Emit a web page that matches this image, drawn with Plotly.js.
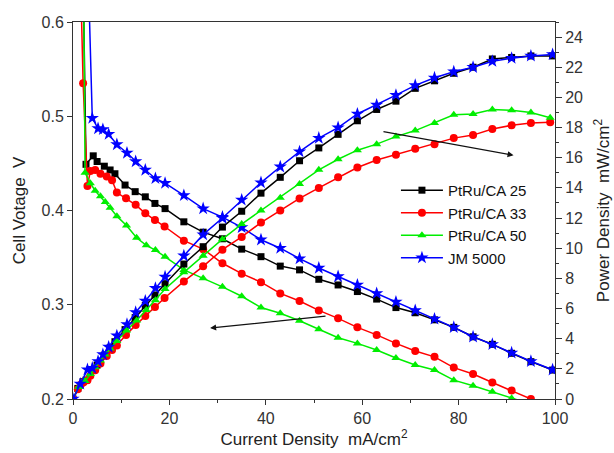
<!DOCTYPE html>
<html>
<head>
<meta charset="utf-8">
<script src="https://cdn.plot.ly/plotly-3.0.1.min.js"></script>
<style>html,body{margin:0;padding:0;background:#fff;}#chart{width:614px;height:453px;}</style>
</head>
<body>
<div id="chart"></div>
<script>
// Series names
var seriesNames = ['PtRu/CA 25', 'PtRu/CA 33', 'PtRu/CA 50', 'JM 5000'];

// PtRu/CA 25 (black squares)
var caCurrent25 = [0, 1.0, 2.1, 2.7, 4.2, 5.0, 6.5, 7.7, 8.7, 10.8, 12.9, 15, 17, 19.1, 23, 27, 31, 35, 39, 43, 47, 51, 55, 59, 63, 67, 71, 75, 79, 83, 87, 91, 95, 99.5];
var caVoltage25 = [0.75, 0.70, 0.65, 0.449, 0.458, 0.452, 0.447, 0.443, 0.439, 0.427, 0.420, 0.4145, 0.4075, 0.402, 0.388, 0.377, 0.370, 0.359, 0.351, 0.341, 0.337, 0.327, 0.321, 0.314, 0.306, 0.297, 0.2915, 0.284, 0.276, 0.266, 0.258, 0.2485, 0.2396, 0.2307];
var caPower25 = [0, 0.7, 1.15, 1.25, 1.9, 2.25, 2.9, 3.4, 3.8, 4.6, 5.4, 6.2, 6.9, 7.65, 8.95, 10.1, 11.4, 12.45, 13.65, 14.7, 15.8, 16.65, 17.55, 18.45, 19.2, 19.75, 20.6, 21.1, 21.6, 22.0, 22.55, 22.65, 22.75, 22.75];

// PtRu/CA 33 (red circles)
var caCurrent33 = [0, 1.0, 1.6, 2.1, 3.0, 3.6, 4.6, 5.7, 7.0, 8.1, 9.1, 11, 13, 15, 17, 19, 23, 27, 31, 35, 39, 43, 47, 51, 55, 59, 63, 67, 71, 75, 79, 83, 87, 91, 95, 99];
var caVoltage33 = [0.75, 0.70, 0.64, 0.535, 0.426, 0.442, 0.443, 0.439, 0.436, 0.432, 0.419, 0.413, 0.406, 0.397, 0.390, 0.383, 0.368, 0.359, 0.344, 0.333, 0.324, 0.312, 0.304, 0.294, 0.2856, 0.276, 0.268, 0.259, 0.251, 0.2447, 0.2333, 0.2265, 0.2175, 0.209, 0.200, 0.186];
var caPower33 = [0, 0.65, 0.95, 1.1, 1.25, 1.55, 1.9, 2.35, 2.85, 3.25, 3.55, 4.25, 4.9, 5.5, 6.1, 6.7, 7.8, 8.8, 9.9, 10.75, 11.7, 12.5, 13.3, 14.0, 14.7, 15.35, 15.85, 16.2, 16.6, 16.9, 17.3, 17.5, 17.9, 18.15, 18.3, 18.35];

// PtRu/CA 50 (green triangles)
var caCurrent50 = [0, 1.2, 2.2, 2.5, 3.6, 4.6, 5.7, 6.7, 7.7, 9.1, 11.1, 13.2, 15.2, 17.1, 19.1, 23, 27, 31, 35, 39, 43, 47, 51, 55, 59, 63, 67, 71, 75, 79, 83, 87, 91, 95, 99];
var caVoltage50 = [0.75, 0.70, 0.65, 0.440, 0.429, 0.421, 0.415, 0.409, 0.403, 0.394, 0.384, 0.371, 0.363, 0.358, 0.351, 0.337, 0.328, 0.319, 0.309, 0.297, 0.291, 0.283, 0.274, 0.265, 0.259, 0.252, 0.2435, 0.236, 0.2307, 0.220, 0.214, 0.2077, 0.2007, 0.195, 0.188];
var caPower50 = [0, 0.8, 1.2, 1.2, 1.65, 2.1, 2.55, 2.95, 3.35, 3.85, 4.55, 5.2, 5.9, 6.55, 7.3, 8.4, 9.5, 10.6, 11.6, 12.5, 13.35, 14.25, 15.2, 15.9, 16.5, 16.9, 17.4, 17.8, 18.3, 18.85, 18.9, 19.2, 19.15, 19.0, 18.65];

// JM 5000 (blue stars)
var jmCurrent = [0, 1.5, 3.0, 4.0, 5.2, 6.2, 7.4, 9.1, 11.2, 13, 15, 17.1, 19.1, 23, 27, 31, 35, 39, 43, 47, 51, 55, 59, 63, 67, 71, 75, 79, 83, 87, 91, 95, 99.5];
var jmVoltage = [0.80, 0.72, 0.68, 0.498, 0.487, 0.486, 0.481, 0.470, 0.461, 0.452, 0.443, 0.434, 0.429, 0.416, 0.402, 0.393, 0.382, 0.369, 0.360, 0.349, 0.339, 0.330, 0.321, 0.312, 0.303, 0.294, 0.285, 0.276, 0.266, 0.258, 0.249, 0.240, 0.231];
var jmPower = [0, 1.0, 1.95, 2.05, 2.5, 2.95, 3.45, 4.2, 4.95, 5.75, 6.5, 7.35, 8.1, 9.5, 10.9, 12.0, 13.2, 14.35, 15.4, 16.4, 17.3, 18.0, 18.9, 19.5, 20.15, 20.8, 21.3, 21.7, 22.0, 22.4, 22.6, 22.75, 22.85];

var currents = [caCurrent25, caCurrent33, caCurrent50, jmCurrent];
var voltages = [caVoltage25, caVoltage33, caVoltage50, jmVoltage];
var powers = [caPower25, caPower33, caPower50, jmPower];
var colors = ['#000000', '#ff0000', '#00ee00', '#0000ff'];
var symbols = ['square', 'circle', 'triangle-up', 'star'];
var sizes = [7, 8, 8, 10];

var traces = [];
for (var i = 0; i < 4; i++) {
  traces.push({
    x: currents[i], y: voltages[i], name: seriesNames[i], type: 'scatter', mode: 'lines+markers',
    line: {color: colors[i], width: 1.5},
    marker: {symbol: symbols[i], size: sizes[i], color: colors[i]},
    yaxis: 'y', legendgroup: 'g' + i
  });
  traces.push({
    x: currents[i], y: powers[i], name: seriesNames[i], type: 'scatter', mode: 'lines+markers',
    line: {color: colors[i], width: 1.5},
    marker: {symbol: symbols[i], size: sizes[i], color: colors[i]},
    yaxis: 'y2', legendgroup: 'g' + i, showlegend: false
  });
}

var axisCol = '#333';
var layout = {
  width: 614, height: 453,
  margin: {l: 73, r: 59, t: 22, b: 54},
  paper_bgcolor: '#ffffff', plot_bgcolor: '#ffffff',
  font: {family: 'Arial, "Liberation Sans", sans-serif', size: 16, color: '#222'},
  showlegend: true,
  legend: {x: 0.67, y: 0.597, xanchor: 'left', yanchor: 'top', bgcolor: 'rgba(0,0,0,0)',
           font: {size: 15, color: '#111'}, itemwidth: 42, tracegroupgap: 0},
  xaxis: {range: [0, 100], tick0: 0, dtick: 20, ticks: 'outside', ticklen: 5, tickcolor: axisCol,
          showline: true, linecolor: axisCol, mirror: true, showgrid: false, zeroline: false,
          tickfont: {size: 16, color: '#333'},
          minor: {ticks: 'outside', dtick: 10, ticklen: 3, tickcolor: axisCol, showgrid: false},
          title: {text: 'Current Density\u00a0 mA/cm<sup>2</sup>', font: {size: 17, color: '#222'}, standoff: 3}},
  yaxis: {range: [0.2, 0.6], tick0: 0.2, dtick: 0.1, ticks: 'outside', ticklen: 5, tickcolor: axisCol,
          showline: true, linecolor: axisCol, showgrid: false, zeroline: false,
          tickfont: {size: 16, color: '#333'},
          title: {text: 'Cell Votage\u00a0 V', font: {size: 17, color: '#222'}, standoff: 11}},
  yaxis2: {range: [0, 25], tick0: 0, dtick: 2, overlaying: 'y', side: 'right', ticks: 'outside', ticklen: 6,
           tickcolor: axisCol, showline: true, linecolor: axisCol, showgrid: false, zeroline: false,
           tickfont: {size: 16, color: '#333'},
           minor: {ticks: 'outside', dtick: 1, ticklen: 3, tickcolor: axisCol, showgrid: false},
           title: {text: 'Power Density\u00a0 mW/cm<sup>2</sup>', font: {size: 17, color: '#222'}, standoff: 15}},
  annotations: [
    {x: 91.4, y: 16.16, xref: 'x', yref: 'y2', ax: 64.1, ay: 17.75, axref: 'x', ayref: 'y2',
     text: '', showarrow: true, arrowhead: 2, arrowsize: 1, arrowwidth: 1.2, arrowcolor: '#111'},
    {x: 28.45, y: 0.2753, xref: 'x', yref: 'y', ax: 52.7, ay: 0.288, axref: 'x', ayref: 'y',
     text: '', showarrow: true, arrowhead: 2, arrowsize: 1, arrowwidth: 1.2, arrowcolor: '#111'}
  ]
};

Plotly.newPlot('chart', traces, layout, {staticPlot: true, displayModeBar: false});
</script>
</body>
</html>
